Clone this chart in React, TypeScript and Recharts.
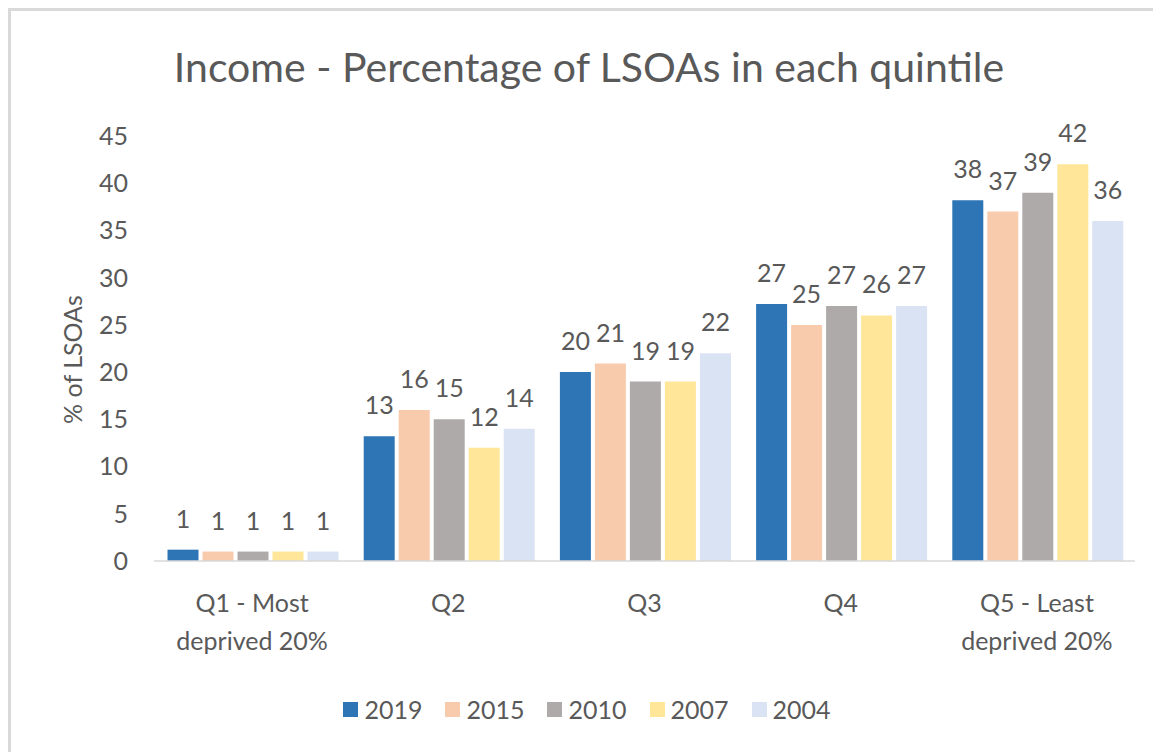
import { Bar, BarChart, LabelList, Legend, XAxis, YAxis } from 'recharts';

const categories = ['Q1 - Most\ndeprived 20%', 'Q2', 'Q3', 'Q4', 'Q5 - Least\ndeprived 20%'];
const years = ['2019', '2015', '2010', '2007', '2004'];
const colors = ['#2E75B6', '#F8CBAD', '#AEAAAA', '#FFE699', '#DAE3F3'];

const values2019 = [1.2, 13.2, 20, 27.2, 38.2];
const values2015 = [1, 16, 20.9, 25, 37];
const values2010 = [1, 15, 19, 27, 39];
const values2007 = [1, 12, 19, 26, 42];
const values2004 = [1, 14, 22, 27, 36];
const yTicks = [0, 5, 10, 15, 20, 25, 30, 35, 40, 45];

const seriesValues = [values2019, values2015, values2010, values2007, values2004];
const data = categories.map((name, i) => {
  const row: Record<string, string | number> = { name };
  years.forEach((year, s) => {
    row[year] = seriesValues[s][i];
  });
  return row;
});

const FONT = 'Lato, "Open Sans", sans-serif';
const TEXT = '#595959';

function CategoryTick({ x, y, payload }: any) {
  const lines = String(payload.value).split('\n');
  return (
    <text x={x} y={y} textAnchor="middle" fill={TEXT} fontSize={25} fontFamily={FONT}>
      {lines.map((line, i) => (
        <tspan key={i} x={x} dy={i === 0 ? 51 : 38}>
          {line}
        </tspan>
      ))}
    </text>
  );
}

function YTitle({ viewBox }: any) {
  const cx = 71;
  const cy = (viewBox?.y ?? 125) + (viewBox?.height ?? 425) / 2 + 11;
  return (
    <text x={cx} y={cy} transform={`rotate(-90 ${cx} ${cy})`} textAnchor="middle" fill={TEXT} fontSize={25} fontFamily={FONT}>
      % of LSOAs
    </text>
  );
}

function YearLegend() {
  return (
    <div style={{ display: 'flex', justifyContent: 'center', alignItems: 'center', fontFamily: FONT, fontSize: 25, color: TEXT }}>
      {years.map((year, i) => (
        <span key={year} style={{ display: 'flex', alignItems: 'center', marginRight: i < years.length - 1 ? 23 : 0 }}>
          <span style={{ display: 'inline-block', width: 15, height: 15, background: colors[i], marginRight: 6 }} />
          {year}
        </span>
      ))}
    </div>
  );
}

export default function App() {
  return (
    <div
      style={{
        position: 'relative',
        width: 1150,
        height: 741,
        borderLeft: '3px solid #d9d9d9',
        borderTop: '3px solid #d9d9d9',
        background: '#fff',
        fontFamily: FONT,
      }}
    >
      <div
        style={{
          position: 'absolute',
          left: 0,
          top: 35,
          width: 1156,
          textAlign: 'center',
          fontSize: 41,
          lineHeight: 1,
          color: TEXT,
        }}
      >
        Income - Percentage of LSOAs in each quintile
      </div>
      <BarChart
        width={1150}
        height={741}
        data={data}
        margin={{ top: 125, right: 26, bottom: 0, left: 40 }}
        barCategoryGap={13.5}
        barGap={4}
      >
        <XAxis
          dataKey="name"
          interval={0}
          height={191}
          tickLine={false}
          tickSize={0}
          tickMargin={0}
          axisLine={{ stroke: '#d9d9d9', strokeWidth: 1.5 }}
          tick={<CategoryTick />}
        />
        <YAxis
          domain={[0, 45]}
          ticks={yTicks}
          width={103}
          axisLine={false}
          tickLine={false}
          tickSize={0}
          tickMargin={26}
          tick={{ fontSize: 25, fill: TEXT, fontFamily: FONT }}
          label={<YTitle />}
        />
        <Legend
          verticalAlign="middle"
          align="center"
          content={<YearLegend />}
          wrapperStyle={{ top: 683, left: 0, width: 1152 }}
        />
        {years.map((year, i) => (
          <Bar key={year} dataKey={year} fill={colors[i]} isAnimationActive={false}>
            <LabelList
              dataKey={year}
              position="top"
              offset={22}
              formatter={(v: any) => Math.round(Number(v))}
              fill={TEXT}
              fontSize={25}
              fontFamily={FONT}
            />
          </Bar>
        ))}
      </BarChart>
    </div>
  );
}
